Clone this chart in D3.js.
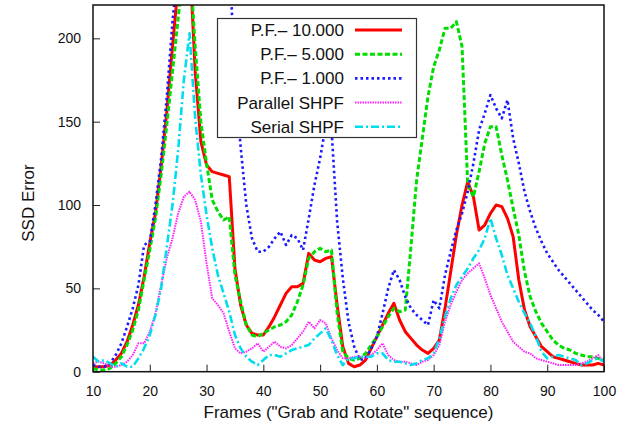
<!DOCTYPE html>
<html>
<head>
<meta charset="utf-8">
<script src="https://cdn.jsdelivr.net/npm/d3@7"></script>
<style>
  body { margin: 0; background: #fff; }
  text { font-family: "Liberation Sans", Arial, Helvetica, sans-serif; fill: #111; }
</style>
</head>
<body>
<svg id="chart" width="629" height="430"></svg>
<script>
const frames = [10,11,12,13,14,15,16,17,18,19,20,21,22,23,24,25,26,27,28,29,30,31,32,33,34,35,36,37,38,39,
  40,41,42,43,44,45,46,47,48,49,50,51,52,53,54,55,56,57,58,59,60,61,62,63,64,65,66,67,68,69,
  70,71,72,73,74,75,76,77,78,79,80,81,82,83,84,85,86,87,88,89,90,91,92,93,94,95,96,97,98,99,100];

const pf10000 = [3,3,3,4,7,11,18,28,40,57,77,95,123,156,195,232,270,250,180,138,124,120,119,118,117,62,40,28,23,22,
  22,27,33,40,47,51,51,53,71,67,66,68,69,40,15,5,3,4,7,14,21,28,35,41,31,24,20,16,13,11,
  14,19,38,60,82,100,114,105,85,88,95,100,99,92,81,55,37,27,21,15,12,9,8,7,6,5,4,4,4,5,4];

const pf5000 = [2,1,1,2,5,9,16,25,37,55,73,92,118,148,180,212,245,250,195,150,125,103,96,91,93,58,42,28,22,21,
  23,25,27,28,30,34,42,52,68,72,74,72,73,35,12,8,7,8,11,16,21,27,33,38,36,37,75,115,140,165,
  183,193,206,206,210,195,112,105,120,137,147,147,130,115,98,82,60,45,36,29,24,19,16,14,13,11,10,9,9,8,7];

const pf1000 = [4,3,3,5,10,17,27,38,52,76,78,100,128,165,210,245,270,280,280,275,270,262,255,245,248,178,135,100,80,72,
  72,75,80,84,76,82,80,73,92,112,128,148,146,90,56,30,15,7,8,14,21,35,50,61,55,45,38,34,31,28,
  43,38,58,72,85,95,108,125,145,155,166,158,152,163,140,125,108,96,86,78,71,66,61,57,53,49,45,41,37,34,30];

const parallel = [5,6,5,3,3,4,6,10,17,17,24,35,52,68,80,95,105,108,103,90,65,44,40,35,24,14,11,12,14,17,
  12,15,18,15,14,16,20,24,30,26,31,29,20,13,8,8,9,9,8,10,13,17,10,7,6,6,5,4,6,7,
  10,16,30,40,48,55,59,62,65,56,46,38,30,24,18,15,12,11,8,7,6,5,4,4,4,4,5,6,8,10,5];

const serial = [9,6,7,5,3,5,3,3,8,14,22,34,50,75,100,133,175,203,152,118,94,74,58,47,36,22,14,9,6,4,
  7,10,10,9,11,13,14,15,16,20,23,26,19,10,4,8,8,9,9,9,11,11,7,6,6,5,4,5,7,8,
  11,20,33,44,52,57,62,68,73,80,92,80,70,58,50,42,35,29,21,12,8,9,10,9,8,7,4,5,7,8,6];

const names = ["P.F.\u2013 10.000", "P.F.\u2013 5.000", "P.F.\u2013 1.000", "Parallel SHPF", "Serial SHPF"];
const colors = ["#ff0000", "#00dd00", "#1a1aff", "#ff22ff", "#00dded"];
const dashes = [null, "5,2.5", "2.5,3", "1.5,1", "8,3,2,3"];
const widths = [3, 3, 2.6, 2, 2.6];
const yTicks = [0, 50, 100, 150, 200];
const xTicks = [10, 20, 30, 40, 50, 60, 70, 80, 90, 100];

const width = 629, height = 430;
const margin = {top: 5, right: 25, bottom: 58.3, left: 93};

const series = [pf10000, pf5000, pf1000, parallel, serial].map((values, i) => ({
  name: names[i], color: colors[i], dash: dashes[i], width: widths[i],
  values: frames.map((f, j) => ({frame: f, value: values[j]}))
}));

const x = d3.scaleLinear()
    .domain([10, 100])
    .range([margin.left, width - margin.right]);

const y = d3.scaleLinear()
    .domain([0, 220])
    .range([height - margin.bottom, margin.top]);

const line = d3.line()
    .x(d => x(d.frame))
    .y(d => y(d.value));

const svg = d3.select("#chart");

svg.append("clipPath")
    .attr("id", "clip")
  .append("rect")
    .attr("x", margin.left)
    .attr("y", margin.top)
    .attr("width", width - margin.left - margin.right)
    .attr("height", height - margin.top - margin.bottom);

// axes, gnuplot style: ticks point inward
svg.append("g")
    .attr("transform", `translate(0,${height - margin.bottom})`)
    .call(d3.axisBottom(x).tickValues(xTicks).tickSize(-7).tickPadding(14))
    .call(g => g.select(".domain").remove())
    .call(g => g.selectAll(".tick line").attr("stroke", "#222"))
    .call(g => g.selectAll(".tick text").attr("font-size", 14).attr("fill", "#111"));

svg.append("g")
    .attr("transform", `translate(${margin.left},0)`)
    .call(d3.axisLeft(y).tickValues(yTicks).tickSize(-7).tickPadding(12))
    .call(g => g.select(".domain").remove())
    .call(g => g.selectAll(".tick line").attr("stroke", "#222"))
    .call(g => g.selectAll(".tick text").attr("font-size", 14).attr("fill", "#111"));

svg.append("g")
    .attr("clip-path", "url(#clip)")
  .selectAll("path")
  .data(series)
  .join("path")
    .attr("fill", "none")
    .attr("stroke", d => d.color)
    .attr("stroke-width", d => d.width)
    .attr("stroke-dasharray", d => d.dash)
    .attr("stroke-linejoin", "round")
    .attr("d", d => line(d.values));

svg.append("rect")
    .attr("x", margin.left)
    .attr("y", margin.top)
    .attr("width", width - margin.left - margin.right)
    .attr("height", height - margin.top - margin.bottom)
    .attr("fill", "none")
    .attr("stroke", "#111")
    .attr("stroke-width", 1.5);

svg.append("text")
    .attr("x", (margin.left + width - margin.right) / 2)
    .attr("y", 418)
    .attr("text-anchor", "middle")
    .attr("font-size", 17)
    .text("Frames (\"Grab and Rotate\" sequence)");

svg.append("text")
    .attr("transform", "translate(28,203) rotate(-90)")
    .attr("text-anchor", "middle")
    .attr("dy", "0.35em")
    .attr("font-size", 17)
    .text("SSD Error");

// legend, opaque box
const legend = svg.append("g");

legend.append("rect")
    .attr("x", 217.5)
    .attr("y", 18.5)
    .attr("width", 199)
    .attr("height", 119)
    .attr("fill", "#fff")
    .attr("stroke", "#333")
    .attr("stroke-width", 1.2);

const item = legend.selectAll("g")
  .data(series)
  .join("g")
    .attr("transform", (d, i) => `translate(0,${30 + i * 24.2})`);

item.append("text")
    .attr("x", 344)
    .attr("dy", "0.35em")
    .attr("text-anchor", "end")
    .attr("font-size", 17)
    .text(d => d.name);

item.append("line")
    .attr("x1", 355)
    .attr("x2", 402)
    .attr("stroke", d => d.color)
    .attr("stroke-width", d => d.width)
    .attr("stroke-dasharray", d => d.dash);
</script>
</body>
</html>
